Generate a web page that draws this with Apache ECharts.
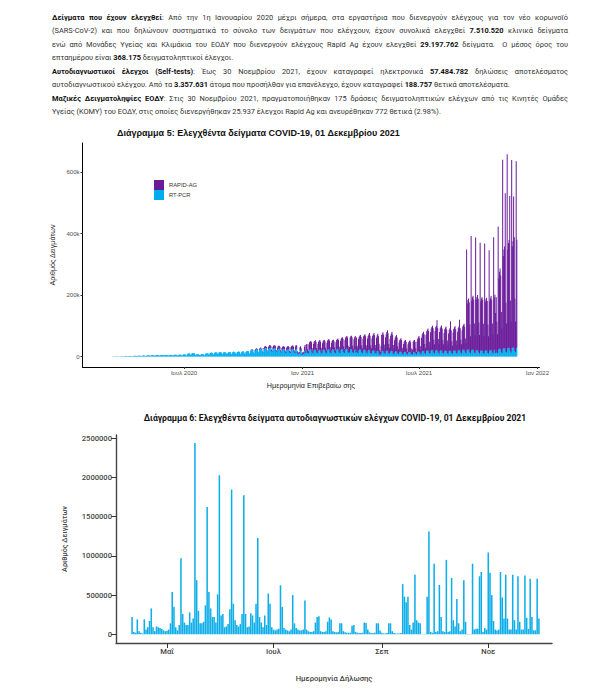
<!DOCTYPE html>
<html><head><meta charset="utf-8">
<script src="https://cdn.jsdelivr.net/npm/echarts@6/dist/echarts.min.js"></script>
<style>
html,body{margin:0;padding:0;background:#fff;}
body{width:606px;height:693px;position:relative;overflow:hidden;}
#txt{position:absolute;left:52px;top:10.5px;width:516px;font-family:Roboto,"Noto Sans",sans-serif;font-size:7.4px;line-height:13.5px;color:#333;}
#txt b{color:#111;font-weight:700;}
.l{white-space:normal;height:13.5px;overflow:visible;}
.j{text-align:justify;text-align-last:justify;}
#c5{position:absolute;left:0;top:120px;width:552px;height:275px;overflow:hidden;}
#c6{position:absolute;left:0;top:400px;width:606px;height:293px;overflow:hidden;}
</style></head>
<body>
<div id="txt">
<div class="l j"><b>Δείγματα που έχουν ελεγχθεί</b>: Από την 1η Ιανουαρίου 2020 μέχρι σήμερα, στα εργαστήρια που διενεργούν ελέγχους για τον νέο κορωνοϊό</div>
<div class="l j">(SARS-CoV-2) και που δηλώνουν συστηματικά το σύνολο των δειγμάτων που ελέγχουν, έχουν συνολικά ελεγχθεί <b>7.510.520</b> κλινικά δείγματα</div>
<div class="l j">ενώ από Μονάδες Υγείας και Κλιμάκια του ΕΟΔΥ που διενεργούν ελέγχους Rapid Ag έχουν ελεγχθεί <b>29.197.762</b> δείγματα.&nbsp; Ο μέσος όρος του</div>
<div class="l">επταημέρου είναι <b>368.175</b> δειγματοληπτικοί έλεγχοι.</div>
<div class="l j"><b>Αυτοδιαγνωστικοί έλεγχοι (Self-tests)</b>: Έως 30 Νοεμβρίου 2021, έχουν καταγραφεί ηλεκτρονικά <b>57.484.782</b> δηλώσεις αποτελέσματος</div>
<div class="l">αυτοδιαγνωστικού ελέγχου. Από τα <b>3.357.631</b> άτομα που προσήλθαν για επανέλεγχο, έχουν καταγραφεί <b>188.757</b> θετικά αποτελέσματα.</div>
<div class="l j"><b>Μαζικές Δειγματοληψίες ΕΟΔΥ</b>: Στις 30 Νοεμβρίου 2021, πραγματοποιήθηκαν 175 δράσεις δειγματοληπτικών ελέγχων από τις Κινητές Ομάδες</div>
<div class="l">Υγείας (ΚΟΜΥ) του ΕΟΔΥ, στις οποίες διενεργήθηκαν 25.937 έλεγχοι Rapid Ag και ανευρέθηκαν 772 θετικά (2.98%).</div>
</div>
<div id="c5"></div>
<div id="c6"></div>
<script>
// ---------- Chart 5 data (thousands per day) ----------
// RT-PCR, daily from 26 Feb 2020 to 30 Nov 2021 (rows = Mon..Sun weeks)
const pcrK = [
0.1,0.1,0.2,0.1,0.1,
0.2,0.3,0.3,0.4,0.4,0.3,0.2,
0.5,0.6,0.7,0.8,0.8,0.6,0.5,
0.9,1,1.1,1.2,1.1,0.8,0.7,
1.2,1.3,1.4,1.5,1.4,1,0.9,
1.5,1.6,1.7,1.8,1.6,1.2,1,
1.8,2,2.1,2,1.9,1.3,1.1,
1.6,2.2,2.4,2.5,2.3,1.6,1.2,
2.5,2.7,2.8,2.8,2.6,1.8,1.4,
3,3.2,3.3,3.4,2.8,2,1.6,
3.5,3.8,4,4.2,4,2.8,2.2,
4,4.3,4.5,4.6,4.4,3,2.4,
4.5,4.8,5,5,4.8,3.2,2.5,
4.6,5,5.2,5.3,5,3.4,2.6,
4.8,5.2,5.4,5.5,5.2,3.5,2.8,
5,5.5,5.6,5.8,5.4,3.6,2.9,
5.2,5.8,6,6.1,5.8,3.8,3,
5.5,6,6.3,6.5,6.2,4,3.2,
6,6.5,7,7.5,7,4.5,3.5,
8,9,10,11,10,6,5,
10,11,12,12,11,7,5,
7,8,8,8,7,5,4,
7,8,8.5,8.5,8,5.5,4.5,
9,10,11,11,10.5,7,6,
11,12,13,13,12,8,7,
12,13,14,14,13,9,8,
13,14,15,14,13,9,8,
13,14,14,14,13,9,8,
12,14,15,15,14,9,8,
13,15,16,16,15,10,8,
13,15,16,17,15,10,8,
14,16,17,17,16,10,9,
15,17,18,18,17,11,9,
18,21,22,23,21,14,11,
20,23,24,25,23,15,12,
22,25,26,22,24,16,13,
24,27,28,28,26,18,14,
25,28,29,29,27,18,15,
24,27,28,28,26,17,14,
22,25,26,26,24,16,13,
21,24,25,25,23,15,12,
20,23,24,24,22,14,12,
21,24,25,25,23,15,12,
22,25,24,12,8,9,10,
20,22,18,6,9,8,10,
18,21,12,20,19,12,10,
20,23,24,24,22,14,11,
19,22,23,23,21,13,11,
18,21,22,22,20,13,10,
19,22,23,23,21,13,10,
20,23,24,24,22,14,11,
20,23,24,24,22,14,11,
21,24,25,25,23,15,12,
21,24,25,25,23,15,12,
22,25,26,26,24,15,12,
13,24,25,25,23,15,12,
22,24,25,13,22,14,12,
21,23,24,24,22,14,11,
20,22,23,23,21,13,11,
19,21,22,22,20,12,10,
18,20,21,21,19,12,10,
17,19,20,18,12,7,6,
10,18,19,19,17,11,9,
17,19,20,20,18,11,9,
16,18,19,19,17,10,8,
15,17,18,18,16,10,8,
14,16,17,17,15,9,7,
13,15,16,16,14,9,7,
13,15,16,16,14,9,7,
8,15,16,16,14,9,7,
14,16,17,17,15,10,8,
16,18,19,19,17,11,9,
18,20,21,21,19,12,10,
19,21,22,22,20,13,10,
19,21,22,22,20,13,10,
18,20,21,21,19,12,10,
17,19,20,20,18,12,9,
17,19,20,20,18,12,9,
18,20,21,21,19,12,10,
19,21,22,22,20,13,10,
20,22,23,23,21,13,11,
21,23,24,24,22,14,11,
20,22,23,23,21,13,11,
19,21,22,22,20,13,10,
18,20,21,21,19,12,10,
18,20,21,21,19,12,10,
19,21,22,22,20,13,10,
20,22,23,12,21,13,11,
23,25,26,26,24,15,12,
25,27,28,28,26,16,13,
26,28,29,29,27,17,13,
27,29,30,30,28,18,14,
28,30
];
// RAPID-AG, daily from 12 Oct 2020 to 30 Nov 2021 (none reported before)
const rapidStart = [2020,9,12];
const rapidK = [
0.5,1,1,1.2,1,0.5,0.3,
1.5,2,2.2,2.3,2,1,0.6,
2.5,3,3.2,1.5,3,1.5,1,
4,5,5.5,6,5.5,3,2,
6,7,7.5,8,7,4,2.5,
7,8,8.5,9,8,4.5,3,
7,8.5,9,9,8,4.5,3,
7,8,9,9,8.5,4.5,3,
8,9,10,10,9,5,3.5,
9,10,11,11,10,6,4,
11,13,12,5,3,4,5,
10,12,9,3,4,5,6,
14,17,8,20,22,12,8,
20,24,26,27,25,14,9,
22,26,28,30,27,15,10,
23,27,30,32,28,16,10,
24,28,30,31,29,16,11,
25,29,31,33,30,17,11,
24,28,30,31,28,16,10,
26,30,32,34,31,17,11,
30,34,36,38,35,19,13,
32,37,39,41,38,20,14,
18,38,41,43,40,21,14,
34,39,42,20,40,21,14,
36,41,44,46,42,22,15,
38,44,47,50,45,24,16,
40,46,50,55,48,25,17,
42,48,52,56,50,26,18,
44,50,54,48,30,14,10,
25,52,56,60,54,28,18,
46,54,60,66,58,30,20,
42,50,56,62,54,28,18,
38,44,48,52,46,24,16,
32,37,40,43,38,20,12,
28,33,36,38,34,18,8,
27,32,35,37,33,17,7,
15,33,36,38,34,18,8,
35,42,46,50,45,24,14,
45,54,58,62,56,30,20,
52,62,66,70,64,36,24,
60,70,74,78,72,42,30,
64,74,78,96,74,44,32,
62,72,76,80,72,42,30,
60,70,74,78,70,40,28,
58,68,72,95,68,38,26,
60,70,74,78,70,40,28,
62,72,76,98,72,42,30,
66,76,80,84,76,46,32,
327,150,160,165,155,90,55,
372,160,170,175,165,95,58,
368,165,172,178,168,98,60,
352,160,168,172,165,95,58,
350,158,165,170,162,92,56,
327,160,168,175,166,95,60,
368,170,178,130,172,100,62,
400,230,250,260,240,130,80,
615,300,320,330,505,160,95,
632,320,340,350,495,165,100,
612,330,345,490,360,170,100,
607,350
];
const x5Ticks = [[2020,6,1],[2021,0,1],[2021,6,1],[2022,0,1]];
const x5Labels = ['Ιουλ 2020','Ιαν 2021','Ιουλ 2021','Ιαν 2022'];
const y5Ticks = [0,200000,400000,600000];

// ---------- Chart 6 data (thousands per day), 11 Apr 2021 to 30 Nov 2021 ----------
const selfK = [
221,30,20,190,40,20,10,190,60,90,170,330,90,40,100,90,80,70,50,40,
45,60,140,540,350,90,50,120,970,260,
150,120,120,280,150,200,2441,690,300,140,
140,160,370,1625,540,330,220,220,150,510,
2029,240,260,90,100,130,320,1846,390,180,
120,100,130,260,1774,260,90,100,270,240,
150,390,1229,220,150,90,240,120,520,390,
90,60,50,60,70,625,350,80,60,50,
40,60,500,140,80,60,50,50,60,430,
60,40,30,30,40,150,220,230,40,30,
30,40,160,215,190,40,30,25,30,140,
140,40,25,20,20,20,110,120,30,20,
15,15,20,150,145,60,25,15,15,20,
140,140,50,20,12,10,15,140,140,40,
15,10,10,10,15,640,480,410,480,120,
60,150,760,180,150,140,5,3,5,480,
1310,30,20,900,30,40,630,220,40,30,
950,30,40,720,180,100,450,140,40,60,
690,160,5,3,5,900,60,70,70,740,
795,30,80,60,1043,785,500,170,60,50,
60,795,470,200,760,200,60,60,760,180,
60,740,160,60,60,750,210,70,710,220,
50,50,710,200
];
const x6Ticks = [[2021,4,1],[2021,6,1],[2021,8,1],[2021,10,1]];
const x6Labels = ['Μαΐ','Ιουλ','Σεπ','Νοε'];
const y6Ticks = [0,500000,1000000,1500000,2000000,2500000];

// ---------- build (x = day number, UTC days since epoch) ----------
// Items are [value, day] with encode {y:0, x:1} so the stack acts on the value dimension.
const dn = (y,m,d) => Date.UTC(y,m,d)/86400000;
const pcrDay0 = dn(2020,1,26);
const rapidOffset = dn(rapidStart[0],rapidStart[1],rapidStart[2]) - pcrDay0;
const pcrData = pcrK.map((v,i)=>[v*1000, pcrDay0+i]);
const rapidData = pcrK.map((v,i)=>[(i>=rapidOffset && rapidK[i-rapidOffset]!=null) ? rapidK[i-rapidOffset]*1000 : null, pcrDay0+i]);
const selfData = selfK.map((v,i)=>[v*1000, dn(2021,3,11)+i]);
const x5T = x5Ticks.map(a=>dn(a[0],a[1],a[2]));
const x6T = x6Ticks.map(a=>dn(a[0],a[1],a[2]));
function lab(ticks, labels){ return v => { let best=0,bd=Infinity; ticks.forEach((t,i)=>{const d=Math.abs(t-v); if(d<bd){bd=d;best=i;}}); return labels[best]; }; }

const F5 = '"Liberation Sans", Arial, sans-serif';
const c5 = echarts.init(document.getElementById('c5'), null, {renderer:'svg'});
c5.setOption({
  animation:false,
  title:{text:'Διάγραμμα 5: Ελεγχθέντα δείγματα COVID-19, 01 Δεκεμβρίου 2021', left:117, top:8, padding:0,
    textStyle:{fontFamily:F5, fontSize:9, fontWeight:'bold', color:'#111'}},
  legend:{orient:'vertical', left:154, top:60, padding:0, itemWidth:10, itemHeight:10, itemGap:0, icon:'rect',
    data:['RAPID-AG','RT-PCR'], textStyle:{fontFamily:F5, fontSize:5.8, color:'#333'}, selectedMode:false},
  grid:{left:82.5, top:23, width:465.5, height:224},
  xAxis:{type:'value', min: dn(2020,0,25)+0.2, max: dn(2022,0,4)+0.1, scale:true,
    axisLine:{onZero:false, lineStyle:{color:'#000', width:1}},
    axisTick:{show:true, customValues:x5T, length:2, lineStyle:{color:'#333'}},
    axisLabel:{customValues:x5T, formatter:lab(x5T,x5Labels), fontFamily:F5, fontSize:6, color:'#4d4d4d', margin:3, hideOverlap:false},
    splitLine:{show:false},
    name:'Ημερομηνία Επιβεβαίω σης', nameLocation:'middle', nameGap:15,
    nameTextStyle:{fontFamily:F5, fontSize:7.2, color:'#222'}},
  yAxis:{type:'value', min:-33800, max:694300,
    axisLine:{show:true, onZero:false, lineStyle:{color:'#000', width:1}},
    axisTick:{show:true, customValues:y5Ticks, length:2, lineStyle:{color:'#333'}},
    axisLabel:{customValues:y5Ticks, formatter:v=> v===0?'0':(v/1000)+'k', fontFamily:F5, fontSize:6, color:'#4d4d4d', margin:3},
    splitLine:{show:false},
    name:'Αριθμός Δειγμάτων', nameLocation:'middle', nameGap:22, nameRotate:90,
    nameTextStyle:{fontFamily:F5, fontSize:7.2, color:'#222'}},
  series:[
    {name:'RT-PCR', type:'bar', stack:'tot', data:pcrData, encode:{x:1, y:0}, barWidth:1, itemStyle:{color:'#00AEEF'}, silent:true},
    {name:'RAPID-AG', type:'bar', stack:'tot', data:rapidData, encode:{x:1, y:0}, barWidth:1, itemStyle:{color:'#6A1B9A'}, silent:true}
  ]
});

const F6 = 'Roboto, "Noto Sans", sans-serif';
const c6 = echarts.init(document.getElementById('c6'), null, {renderer:'svg'});
c6.setOption({
  animation:false,
  title:{text:'Διάγραμμα 6: Ελεγχθέντα δείγματα αυτοδιαγνωστικών ελέγχων COVID-19, 01 Δεκεμβρίου 2021', left:335, textAlign:'center', top:13, padding:0,
    textStyle:{fontFamily:F6, fontSize:8.6, fontWeight:'bold', color:'#111'}},
  grid:{left:116, top:35, width:436, height:208},
  xAxis:{type:'value', min: dn(2021,4,1)-29.2, max: dn(2021,4,1)+220.5, scale:true,
    axisLine:{onZero:false, lineStyle:{color:'#444', width:1.4}},
    axisTick:{show:true, customValues:x6T, length:5, lineStyle:{color:'#333', width:1}},
    axisLabel:{customValues:x6T, formatter:lab(x6T,x6Labels), fontFamily:F6, fontSize:7.6, fontWeight:500, color:'#444', margin:4},
    splitLine:{show:false},
    name:'Ημερομηνία Δήλωσης', nameLocation:'middle', nameGap:31,
    nameTextStyle:{fontFamily:F6, fontSize:7.6, fontWeight:500, color:'#444'}},
  yAxis:{type:'value', min:-111000, max:2542000,
    axisLine:{show:true, onZero:false, lineStyle:{color:'#444', width:1.4}},
    axisTick:{show:true, customValues:y6Ticks, length:5, lineStyle:{color:'#333', width:1}},
    axisLabel:{customValues:y6Ticks, formatter:v=>String(v), fontFamily:F6, fontSize:7.6, fontWeight:500, color:'#444', margin:4},
    splitLine:{show:false},
    name:'Αριθμός Δειγμάτων', nameLocation:'middle', nameGap:48, nameRotate:90,
    nameTextStyle:{fontFamily:F6, fontSize:7.2, fontWeight:500, color:'#444'}},
  series:[
    {name:'Self-tests', type:'bar', data:selfData, encode:{x:1, y:0}, barWidth:1.55, itemStyle:{color:'#0FAEE9'}, silent:true}
  ]
});
</script>
</body></html>
